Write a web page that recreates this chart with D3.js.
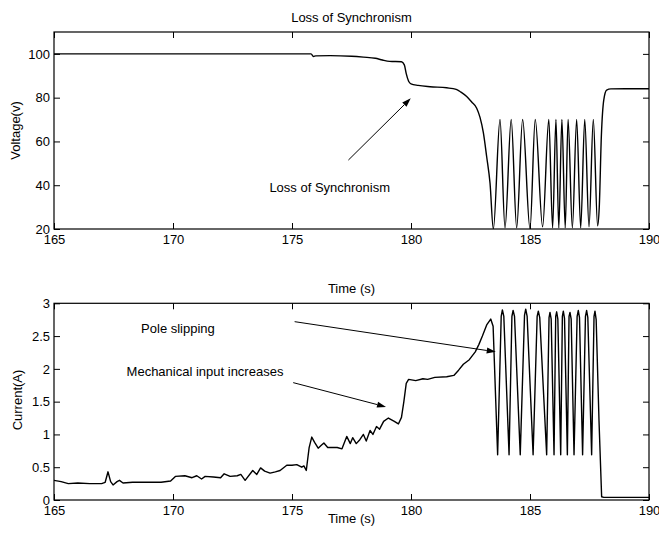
<!DOCTYPE html>
<html>
<head>
<meta charset="utf-8">
<script src="https://cdn.jsdelivr.net/npm/d3@7"></script>
<style>
  html, body { margin: 0; padding: 0; background: #fff; }
  svg { display: block; font-family: "Liberation Sans", Arial, Helvetica, sans-serif; }
  .tick line { stroke: #000; }
  .tick text { font-size: 13px; fill: #000; }
</style>
</head>
<body>
<svg id="chart" width="659" height="538"></svg>
<script>
// Time axis ticks (seconds) shared by both panels
const timeTicks = [165, 170, 175, 180, 185, 190];
const voltageTicks = [20, 40, 60, 80, 100];
const currentTicks = [0, 0.5, 1, 1.5, 2, 2.5, 3];

// Terminal voltage (V) against time (s)
const voltageTime = [165, 167.5, 170, 172.5, 175.8, 175.9, 176.0, 176.6, 177.5, 178.0, 178.5, 178.8, 179.1, 179.6,
  179.72, 179.8, 179.9, 180.0, 180.3, 180.8, 181.5, 181.9, 182.1, 182.34, 182.55, 182.76, 182.9, 183.04, 183.18, 183.32,
  183.46, 183.74, 183.95, 184.21, 184.44, 184.69, 185.0, 185.22, 185.53, 185.79, 185.95, 186.09, 186.21, 186.34, 186.48,
  186.60, 186.78, 186.96, 187.13, 187.30, 187.48, 187.66, 187.84, 187.91, 188.0, 188.1, 188.22, 188.4, 189, 190];
const voltageValue = [100, 100, 100, 100, 100, 98.8, 99.1, 99.2, 98.9, 98.5, 98.0, 97.2, 96.6, 96.4,
  95, 91, 87.5, 86.3, 85.6, 85.0, 84.5, 83.8, 82.5, 80.5, 78, 75.2, 71, 64, 53, 41,
  20, 70, 20.5, 70, 20.5, 70, 20, 70, 21, 70, 20.5, 70, 20.5, 70, 20.5,
  70, 20.5, 70, 20.5, 70, 21, 70, 21.5, 30, 63, 79, 83.5, 84, 84.1, 84.1];

// Stator current (A) against time (s)
const currentTime = [165, 165.3, 165.6, 166.0, 166.5, 167.0, 167.15, 167.27, 167.38, 167.48, 167.65, 167.75, 167.9,
  168.3, 169.0, 169.5, 169.9, 170.1, 170.5, 170.8, 171.0, 171.2, 171.35, 171.7, 172.0, 172.15, 172.4, 172.7, 172.85,
  173.03, 173.35, 173.52, 173.68, 173.85, 174.08, 174.3, 174.5, 174.78, 175.0, 175.2, 175.41, 175.5, 175.6, 175.72,
  175.83, 175.95, 176.1, 176.22, 176.34, 176.5, 176.65, 176.9, 177.1, 177.3, 177.45, 177.55, 177.7, 177.85, 178.0,
  178.12, 178.28, 178.4, 178.55, 178.68, 178.85, 179.05, 179.3, 179.47, 179.6, 179.7, 179.8, 179.9, 180.2, 180.5,
  180.7, 181.0, 181.5, 181.8, 182.0, 182.2, 182.45, 182.7, 182.85, 183.0, 183.18, 183.35, 183.45,
  183.64, 183.79, 183.84, 183.9,
  184.12, 184.24, 184.29, 184.35,
  184.59, 184.77, 184.82, 184.88,
  185.13, 185.30, 185.35, 185.41,
  185.70, 185.80, 185.84, 185.89,
  186.01, 186.08, 186.12, 186.17,
  186.29, 186.36, 186.40, 186.45,
  186.57, 186.64, 186.68, 186.73,
  186.85, 186.98, 187.03, 187.08,
  187.21, 187.33, 187.38, 187.43,
  187.59, 187.69, 187.73, 187.78,
  187.9, 188.01, 188.1, 189, 190];
const currentValue = [0.30, 0.28, 0.25, 0.26, 0.25, 0.25, 0.27, 0.43, 0.28, 0.23, 0.28, 0.30, 0.26,
  0.27, 0.27, 0.27, 0.29, 0.36, 0.37, 0.34, 0.37, 0.32, 0.36, 0.35, 0.34, 0.40, 0.36, 0.37, 0.39,
  0.30, 0.45, 0.39, 0.49, 0.44, 0.41, 0.43, 0.45, 0.53, 0.53, 0.54, 0.50, 0.52, 0.45, 0.80,
  0.96, 0.88, 0.79, 0.83, 0.87, 0.80, 0.80, 0.80, 0.78, 0.97, 0.86, 0.95, 0.86, 0.92, 1.0,
  0.90, 1.06, 1.0, 1.12, 1.08, 1.2, 1.25, 1.2, 1.16, 1.26, 1.5, 1.78, 1.84, 1.82, 1.85,
  1.84, 1.87, 1.88, 1.9, 1.98, 2.07, 2.14, 2.26, 2.37, 2.5, 2.67, 2.76, 2.65,
  0.69, 2.8, 2.9, 2.8,
  0.69, 2.8, 2.89, 2.8,
  0.69, 2.82, 2.91, 2.8,
  0.69, 2.8, 2.88, 2.78,
  0.69, 2.78, 2.86, 2.76,
  0.69, 2.8, 2.87, 2.76,
  0.69, 2.8, 2.88, 2.77,
  0.69, 2.8, 2.86, 2.76,
  0.69, 2.8, 2.89, 2.78,
  0.69, 2.8, 2.89, 2.78,
  0.69, 2.8, 2.88, 2.75,
  1.2, 0.05, 0.04, 0.04, 0.04];

const svg = d3.select("#chart");
const left = 54, right = 649;
const tickLen = 6;

const x = d3.scaleLinear().domain([165, 190]).range([left, right]);

function panel(cfg) {
  const { top, bottom, y, yTicks, yFormat, times, values, curve, clipId } = cfg;
  const g = svg.append("g");

  g.append("clipPath").attr("id", clipId)
    .append("rect").attr("x", left).attr("y", top).attr("width", right - left).attr("height", bottom - top);

  const line = d3.line().x(d => x(d[0])).y(d => y(d[1])).curve(curve);
  const pts = times.map((t, i) => [t, values[i]]);
  g.append("path").datum(pts)
    .attr("clip-path", `url(#${clipId})`)
    .attr("fill", "none").attr("stroke", "#000").attr("stroke-width", 1.4)
    .attr("stroke-linejoin", "round").attr("d", line);

  // bottom axis with labels, inward ticks
  g.append("g").attr("transform", `translate(0,${bottom})`)
    .call(d3.axisBottom(x).tickValues(timeTicks).tickFormat(d3.format("d"))
      .tickSizeInner(-tickLen).tickSizeOuter(0).tickPadding(6))
    .call(a => a.select(".domain").remove());
  // top mirror ticks
  g.append("g").attr("transform", `translate(0,${top})`)
    .call(d3.axisTop(x).tickValues(timeTicks).tickFormat("")
      .tickSizeInner(-tickLen).tickSizeOuter(0))
    .call(a => a.select(".domain").remove());
  // left axis with labels
  g.append("g").attr("transform", `translate(${left},0)`)
    .call(d3.axisLeft(y).tickValues(yTicks).tickFormat(yFormat)
      .tickSizeInner(-tickLen).tickSizeOuter(0).tickPadding(4))
    .call(a => a.select(".domain").remove());
  // right mirror ticks
  g.append("g").attr("transform", `translate(${right},0)`)
    .call(d3.axisRight(y).tickValues(yTicks).tickFormat("")
      .tickSizeInner(-tickLen).tickSizeOuter(0))
    .call(a => a.select(".domain").remove());

  g.selectAll(".tick text").attr("font-family", "Liberation Sans, Arial, sans-serif").attr("font-size", 13);

  // frame
  g.append("rect").attr("x", left).attr("y", top).attr("width", right - left).attr("height", bottom - top)
    .attr("fill", "none").attr("stroke", "#000").attr("stroke-width", 1.2);
  return g;
}

function arrow(g, x1, y1, x2, y2) {
  const ang = Math.atan2(y2 - y1, x2 - x1);
  const L = 9, H = 3;
  const bx = x2 - L * Math.cos(ang), by = y2 - L * Math.sin(ang);
  g.append("line").attr("x1", x1).attr("y1", y1).attr("x2", bx).attr("y2", by)
    .attr("stroke", "#000").attr("stroke-width", 1);
  const px = -Math.sin(ang) * H, py = Math.cos(ang) * H;
  g.append("path")
    .attr("d", `M${x2},${y2}L${bx + px},${by + py}L${bx - px},${by - py}Z`)
    .attr("fill", "#000");
}

function text(g, str, tx, ty, anchor, rotate) {
  const t = g.append("text").text(str).attr("font-size", 13).attr("fill", "#000")
    .attr("text-anchor", anchor || "start");
  if (rotate) t.attr("transform", `translate(${tx},${ty}) rotate(-90)`);
  else t.attr("x", tx).attr("y", ty);
  return t;
}

// ---- Upper panel: voltage ----
const yV = d3.scaleLinear().domain([20, 110]).range([229, 32]);
const gV = panel({ top: 32, bottom: 229, y: yV, yTicks: voltageTicks, yFormat: d3.format("d"),
  times: voltageTime, values: voltageValue, curve: d3.curveMonotoneX, clipId: "clipV" });
text(gV, "Loss of Synchronism", (left + right) / 2, 21.7, "middle");
text(gV, "Time (s)", (left + right) / 2, 293.3, "middle");
text(gV, "Voltage(v)", 19.5, (32 + 229) / 2, "middle", true);
text(gV, "Loss of Synchronism", x(174.05), yV(37.04));
arrow(gV, x(177.37), yV(51.5), x(179.99), yV(79.7));

// ---- Lower panel: current ----
const yI = d3.scaleLinear().domain([0, 3]).range([500, 303.3]);
const gI = panel({ top: 303.3, bottom: 500, y: yI, yTicks: currentTicks, yFormat: d => d3.format("")(d),
  times: currentTime, values: currentValue, curve: d3.curveLinear, clipId: "clipI" });
text(gI, "Time (s)", (left + right) / 2, 523.3, "middle");
text(gI, "Current(A)", 22, 400, "middle", true);
text(gI, "Pole slipping", x(168.66), yI(2.547));
text(gI, "Mechanical input increases", x(168.05), yI(1.891));
arrow(gI, x(175.11), yI(2.72), x(183.56), yI(2.26));
arrow(gI, x(175.05), yI(1.79), x(178.95), yI(1.42));
</script>
</body>
</html>
